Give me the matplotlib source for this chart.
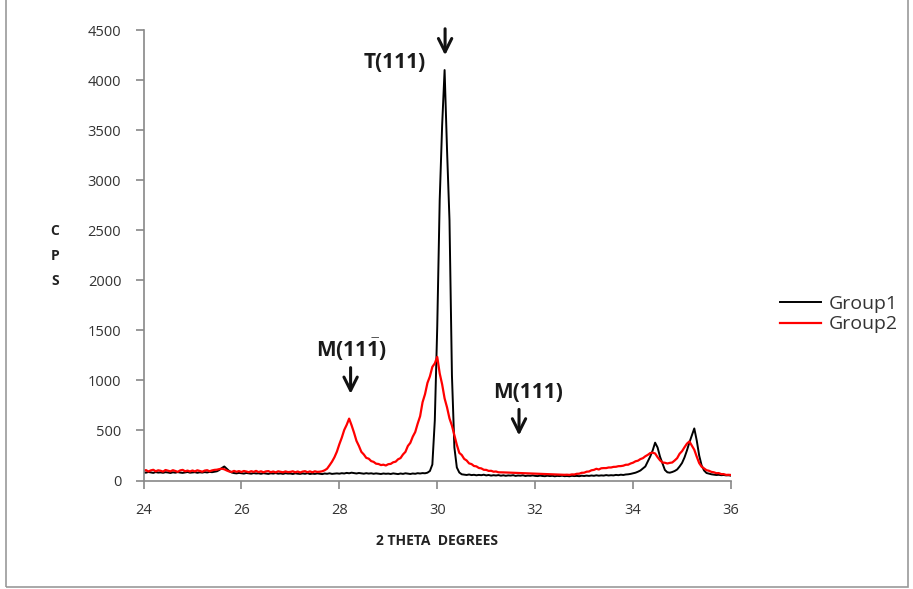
import numpy as np
import matplotlib
matplotlib.use("Agg")
import matplotlib.pyplot as plt
from matplotlib.patches import Rectangle

plt.rcParams['font.family'] = ['Open Sans', 'DejaVu Sans']
plt.rcParams['mathtext.fontset'] = 'custom'
plt.rcParams['mathtext.rm'] = 'Open Sans'
plt.rcParams['mathtext.bf'] = 'Open Sans:bold'

# scan angles, 2theta 24..36 step 0.05
two_theta = np.linspace(24.0, 36.0, 241)

# Group1 counts, one row per degree (20 pts each) + last point
group1 = (
    [82, 78, 85, 80, 76, 84, 79, 81, 77, 83, 80, 75, 82, 78, 84, 79, 76, 81, 85, 78]
    + [80, 83, 77, 82, 79, 84, 80, 86, 83, 88, 92, 105, 125, 140, 118, 95, 80, 74, 71, 76]
    + [73, 69, 75, 71, 68, 74, 70, 72, 67, 73, 70, 66, 72, 69, 74, 68, 71, 66, 73, 69]
    + [70, 65, 72, 68, 66, 71, 67, 73, 65, 69, 66, 71, 68, 64, 70, 67, 72, 66, 69, 71]
    + [68, 73, 70, 76, 72, 78, 74, 70, 75, 71, 68, 73, 69, 72, 67, 71, 68, 65, 70, 67]
    + [69, 65, 71, 67, 64, 70, 66, 72, 68, 65, 70, 67, 73, 70, 74, 72, 78, 95, 160, 600]
    + [1540, 2800, 3550, 4100, 3300, 2600, 1050, 330, 130, 80, 62, 58, 55, 60, 54, 57, 52, 56, 53, 58]
    + [51, 55, 49, 53, 50, 54, 48, 52, 47, 51, 49, 53, 46, 50, 48, 52, 45, 49, 47, 51]
    + [46, 44, 49, 45, 43, 48, 44, 47, 42, 46, 44, 48, 43, 45, 42, 47, 44, 46, 43, 48]
    + [45, 49, 46, 50, 47, 52, 48, 51, 49, 54, 50, 53, 51, 56, 53, 58, 55, 60, 62, 66]
    + [72, 78, 88, 100, 120, 140, 190, 240, 300, 378, 330, 238, 170, 105, 82, 78, 85, 95, 110, 140]
    + [175, 230, 300, 380, 450, 520, 400, 250, 150, 100, 75, 68, 62, 58, 55, 57, 53, 55, 51, 52]
    + [48]
)

# Group2 counts
group2 = (
    [96, 104, 90, 101, 107, 92, 102, 97, 89, 105, 98, 91, 103, 95, 87, 101, 106, 92, 99, 90]
    + [100, 91, 102, 95, 88, 99, 103, 92, 101, 106, 108, 114, 118, 112, 100, 90, 86, 96, 87, 94]
    + [85, 95, 90, 83, 93, 86, 96, 84, 92, 82, 91, 94, 83, 90, 81, 92, 87, 82, 91, 84]
    + [86, 92, 82, 90, 80, 89, 93, 83, 91, 82, 92, 86, 88, 92, 102, 118, 152, 188, 232, 288]
    + [362, 428, 505, 556, 618, 552, 478, 396, 345, 286, 260, 226, 218, 194, 186, 168, 165, 154, 158, 150]
    + [163, 166, 182, 188, 212, 224, 260, 286, 345, 376, 438, 484, 568, 642, 782, 862, 975, 1040, 1135, 1170]
    + [1235, 1070, 960, 820, 730, 620, 548, 452, 356, 276, 255, 216, 200, 171, 164, 145, 141, 125, 121, 107]
    + [106, 96, 97, 88, 90, 82, 82, 81, 80, 79, 78, 77, 76, 75, 74, 73, 72, 71, 70, 69]
    + [68, 67, 66, 65, 64, 63, 62, 61, 60, 60, 59, 58, 57, 58, 56, 61, 60, 67, 68, 77]
    + [78, 88, 90, 102, 106, 117, 110, 122, 124, 124, 130, 130, 136, 137, 143, 144, 148, 157, 158, 170]
    + [178, 192, 198, 214, 223, 242, 256, 274, 278, 270, 233, 202, 180, 177, 170, 176, 180, 200, 223, 267]
    + [293, 332, 368, 390, 348, 307, 238, 174, 138, 120, 103, 97, 86, 82, 73, 74, 64, 64, 56, 57]
    + [55]
)

x_ticks = [24, 26, 28, 30, 32, 34, 36]
y_ticks = [0, 500, 1000, 1500, 2000, 2500, 3000, 3500, 4000, 4500]

fig = plt.figure(figsize=(9.13, 5.89), dpi=100)
ax = fig.add_axes([143.5 / 913, 1 - 480.5 / 589, (731 - 143.5) / 913, (480.5 - 30) / 589])

ax.plot(two_theta, group1, color='black', lw=1.4, label='Group1')
ax.plot(two_theta, group2, color='#ff0000', lw=1.6, label='Group2')

ax.set_xlim(24, 36)
ax.set_ylim(0, 4500)
ax.set_xticks(x_ticks)
ax.set_yticks(y_ticks)
for s in ['top', 'right']:
    ax.spines[s].set_visible(False)
for s in ['left', 'bottom']:
    ax.spines[s].set_color('#888888')
    ax.spines[s].set_linewidth(1.2)
ax.tick_params(axis='both', direction='out', length=6, width=1.2, color='#888888',
               labelsize=10.5, labelcolor='#333333')
ax.tick_params(axis='x', pad=10)
ax.tick_params(axis='y', pad=10)

fig.text(437 / 913, 1 - 541 / 589, '2 THETA  DEGREES', ha='center', va='center',
         fontsize=10, fontweight='bold', color='#222222')
fig.text(55 / 913, 1 - 256 / 589, 'C\nP\nS', ha='center', va='center',
         fontsize=10, fontweight='bold', linespacing=2.0, color='#222222')

# peak labels
lab_kw = dict(fontsize=15, fontweight='bold', color='#1a1a1a', ha='center', va='baseline')
ax.text(29.14, 4125, 'T(111)', **lab_kw)
ax.text(28.25, 1235, r'$\mathbf{M(11\bar{1})}$', **lab_kw)
ax.text(31.86, 825, 'M(111)', **lab_kw)

arr = dict(arrowstyle='->', lw=2.2, color='#111111', mutation_scale=24)
ax.annotate('', xy=(30.16, 4220), xytext=(30.16, 4540), arrowprops=arr, annotation_clip=False)
ax.annotate('', xy=(28.23, 838), xytext=(28.23, 1155), arrowprops=arr)
ax.annotate('', xy=(31.67, 422), xytext=(31.67, 738), arrowprops=arr)

fig.legend(loc='center left', bbox_to_anchor=(780 / 913, 1 - 314 / 589), frameon=False,
           fontsize=14, handlelength=2.1, handletextpad=0.4, labelspacing=0.15,
           borderpad=0, borderaxespad=0, labelcolor='#333333')

# chart border
fig.patches.append(Rectangle((6 / 913, 2 / 589), 902 / 913, 1.2, transform=fig.transFigure,
                             fill=False, edgecolor='#999999', lw=1.2))

fig.savefig('out.png', dpi=100)
